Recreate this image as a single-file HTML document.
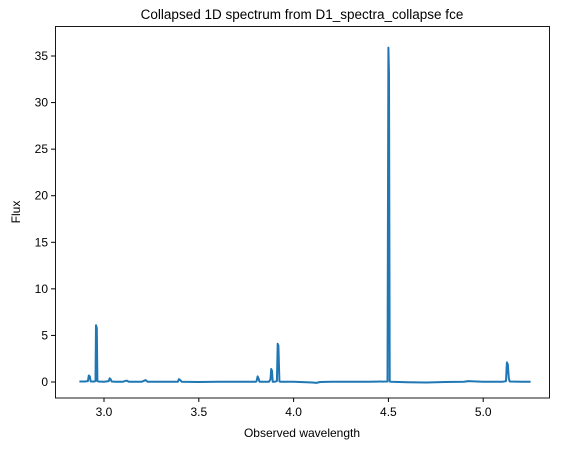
<!DOCTYPE html>
<html><head><meta charset="utf-8"><style>
body{margin:0;background:#fff}
svg text{font-family:"Liberation Sans","DejaVu Sans",sans-serif;fill:#000}
</style></head><body>
<svg id="c" width="563" height="453">
<rect x="0" y="0" width="563" height="453" fill="#fff"/>
<text x="302" y="19" font-size="13.5" text-anchor="middle">Collapsed 1D spectrum from D1_spectra_collapse fce</text>
<text x="302" y="437" font-size="12" text-anchor="middle">Observed wavelength</text>
<text x="20" y="212" font-size="12" text-anchor="middle" transform="rotate(-90 20 212)">Flux</text>
<g id="ticks"></g>
<path id="line" fill="none" stroke="#1f77b4" stroke-width="2" stroke-linejoin="round"/>
<rect x="55.5" y="26.5" width="494" height="371.5" fill="none" stroke="#000" stroke-width="0.9"/>
</svg>
<script>
const xTicks=[3.0,3.5,4.0,4.5,5.0];
const xTickLabels=["3.0","3.5","4.0","4.5","5.0"];
const yTicks=[0,5,10,15,20,25,30,35];
const yTickLabels=["0","5","10","15","20","25","30","35"];
const wavelengths=[2.870,2.900,2.915,2.920,2.925,2.930,2.950,2.955,2.958,2.962,2.965,2.970,3.000,3.025,3.030,3.035,3.040,3.060,3.100,3.120,3.125,3.130,3.200,3.220,3.225,3.230,3.300,3.390,3.395,3.400,3.410,3.500,3.600,3.700,3.800,3.805,3.810,3.815,3.820,3.870,3.878,3.882,3.886,3.890,3.900,3.912,3.916,3.920,3.925,3.928,3.935,4.000,4.100,4.120,4.140,4.200,4.300,4.400,4.495,4.500,4.503,4.507,4.515,4.600,4.700,4.750,4.800,4.900,4.920,5.000,5.100,5.120,5.125,5.130,5.135,5.140,5.200,5.250];
const fluxes=[0.05,0.05,0.1,0.7,0.6,0.05,0.05,0.1,6.1,5.8,0.1,0.05,0.02,0.1,0.4,0.3,0.05,0.02,0.03,0.15,0.1,0.03,0.03,0.2,0.1,0.03,0.02,0.03,0.3,0.25,0.03,0.0,0.02,0.03,0.02,0.1,0.6,0.4,0.03,0.02,0.3,1.4,1.2,0.02,0.02,0.1,4.1,3.9,0.1,0.03,0.02,0.03,-0.05,-0.1,0.0,0.03,0.03,0.03,0.05,35.9,33,0.05,0.03,-0.02,-0.05,-0.02,0.0,0.03,0.1,0.03,0.02,0.1,2.1,1.9,0.4,0.05,0.02,0.02];
const X=v=>104+(v-3)*189.6;
const Y=v=>382-v*9.314;
const g=document.getElementById('ticks');
const ns='http://www.w3.org/2000/svg';
xTicks.forEach((t,i)=>{
 const l=document.createElementNS(ns,'line');
 l.setAttribute('x1',X(t));l.setAttribute('x2',X(t));l.setAttribute('y1',398);l.setAttribute('y2',402);l.setAttribute('stroke','#000');
 
 
 g.appendChild(l);
 const tx=document.createElementNS(ns,'text');
 tx.setAttribute('x',X(t));tx.setAttribute('y',416);tx.setAttribute('font-size','12');tx.setAttribute('text-anchor','middle');
 tx.textContent=xTickLabels[i];
 
 
 g.appendChild(tx);
});
yTicks.forEach((t,i)=>{
 const l=document.createElementNS(ns,'line');
 l.setAttribute('x1',51);l.setAttribute('x2',55.5);l.setAttribute('y1',Y(t));l.setAttribute('y2',Y(t));l.setAttribute('stroke','#000');
 
 
 g.appendChild(l);
 const tx=document.createElementNS(ns,'text');
 tx.setAttribute('x',48);tx.setAttribute('y',Y(t)+4);tx.setAttribute('font-size','12');tx.setAttribute('text-anchor','end');
 tx.textContent=yTickLabels[i];
 
 
 g.appendChild(tx);
});
document.getElementById('line').setAttribute('d',wavelengths.map((w,i)=>(i?'L':'M')+X(w).toFixed(1)+' '+Y(fluxes[i]).toFixed(1)).join(' '));
</script>
</body></html>
